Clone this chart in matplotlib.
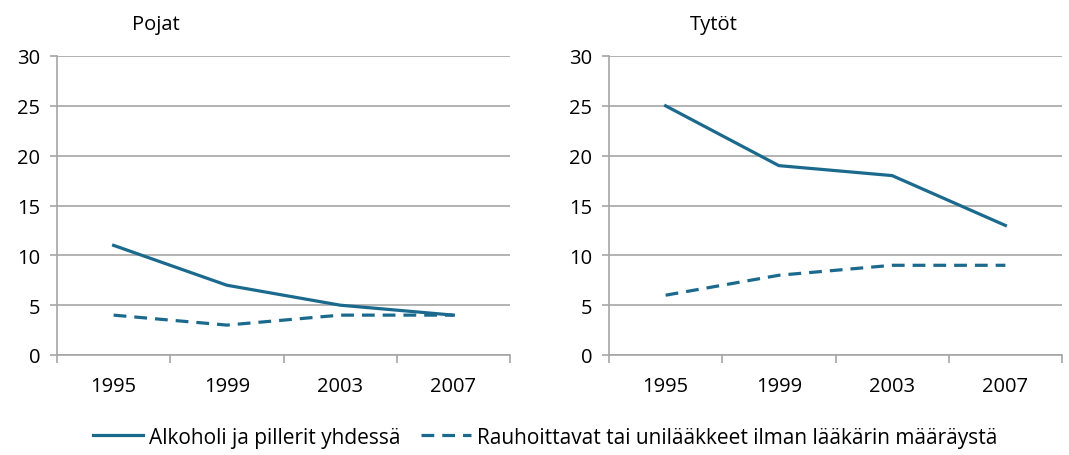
import matplotlib
matplotlib.use("Agg")
import matplotlib.pyplot as plt
import numpy as np

plt.rcParams['font.family'] = ['Open Sans', 'DejaVu Sans']

years = ['1995', '1999', '2003', '2007']
pojat_alkoholi = [11, 7, 5, 4]
pojat_rauhoittavat = [4, 3, 4, 4]
tytot_alkoholi = [25, 19, 18, 13]
tytot_rauhoittavat = [6, 8, 9, 9]

label_solid = 'Alkoholi ja pillerit yhdessä'
label_dashed = 'Rauhoittavat tai unilääkkeet ilman lääkärin määräystä'

line_color = '#1b6a8e'
grid_color = '#a6a6a6'

fig = plt.figure(figsize=(10.69, 4.56), dpi=100)
ax1 = fig.add_axes([57/1069, 1 - 356/456, (510 - 57)/1069, (356 - 57)/456])
ax2 = fig.add_axes([609/1069, 1 - 356/456, (1062 - 609)/1069, (356 - 57)/456])


def style_panel(ax, title, solid, dashed, title_x):
    x = np.arange(len(years))
    ax.plot(x, solid, color=line_color, linewidth=2.3, label=label_solid)
    ax.plot(x, dashed, color=line_color, linewidth=2.3, linestyle=(0, (4, 2.5)),
            label=label_dashed)
    ax.set_xlim(-0.5, len(years) - 0.5)
    ax.set_ylim(0, 30)
    ax.set_yticks(range(0, 31, 5))
    ax.yaxis.grid(True, color=grid_color, linewidth=1.2)
    ax.set_axisbelow(True)
    ax.set_xticks(x)
    ax.set_xticklabels(years)
    ax.set_xticks(np.arange(-0.5, len(years)), minor=True)
    ax.tick_params(axis='x', which='major', length=0, pad=15, labelsize=14.5)
    ax.tick_params(axis='x', which='minor', length=6, width=1.2, color=grid_color)
    ax.tick_params(axis='y', length=5, width=1.2, color=grid_color, pad=7, labelsize=14.5)
    for side in ['top', 'right']:
        ax.spines[side].set_visible(False)
    for side in ['left', 'bottom']:
        ax.spines[side].set_color(grid_color)
        ax.spines[side].set_linewidth(1.2)
    fig.text(title_x, 1 - 25/456, title, fontsize=14.5, va='center', ha='left')


style_panel(ax1, 'Pojat', pojat_alkoholi, pojat_rauhoittavat, 132/1069)
style_panel(ax2, 'Tytöt', tytot_alkoholi, tytot_rauhoittavat, 690/1069)

handles, labels = ax1.get_legend_handles_labels()
fig.legend(handles, labels, loc='lower center', bbox_to_anchor=(0.51, -0.025), ncol=2,
           frameon=False, fontsize=15, handlelength=2.4, handletextpad=0.3,
           columnspacing=1.0)

fig.savefig('out.png', dpi=100)
